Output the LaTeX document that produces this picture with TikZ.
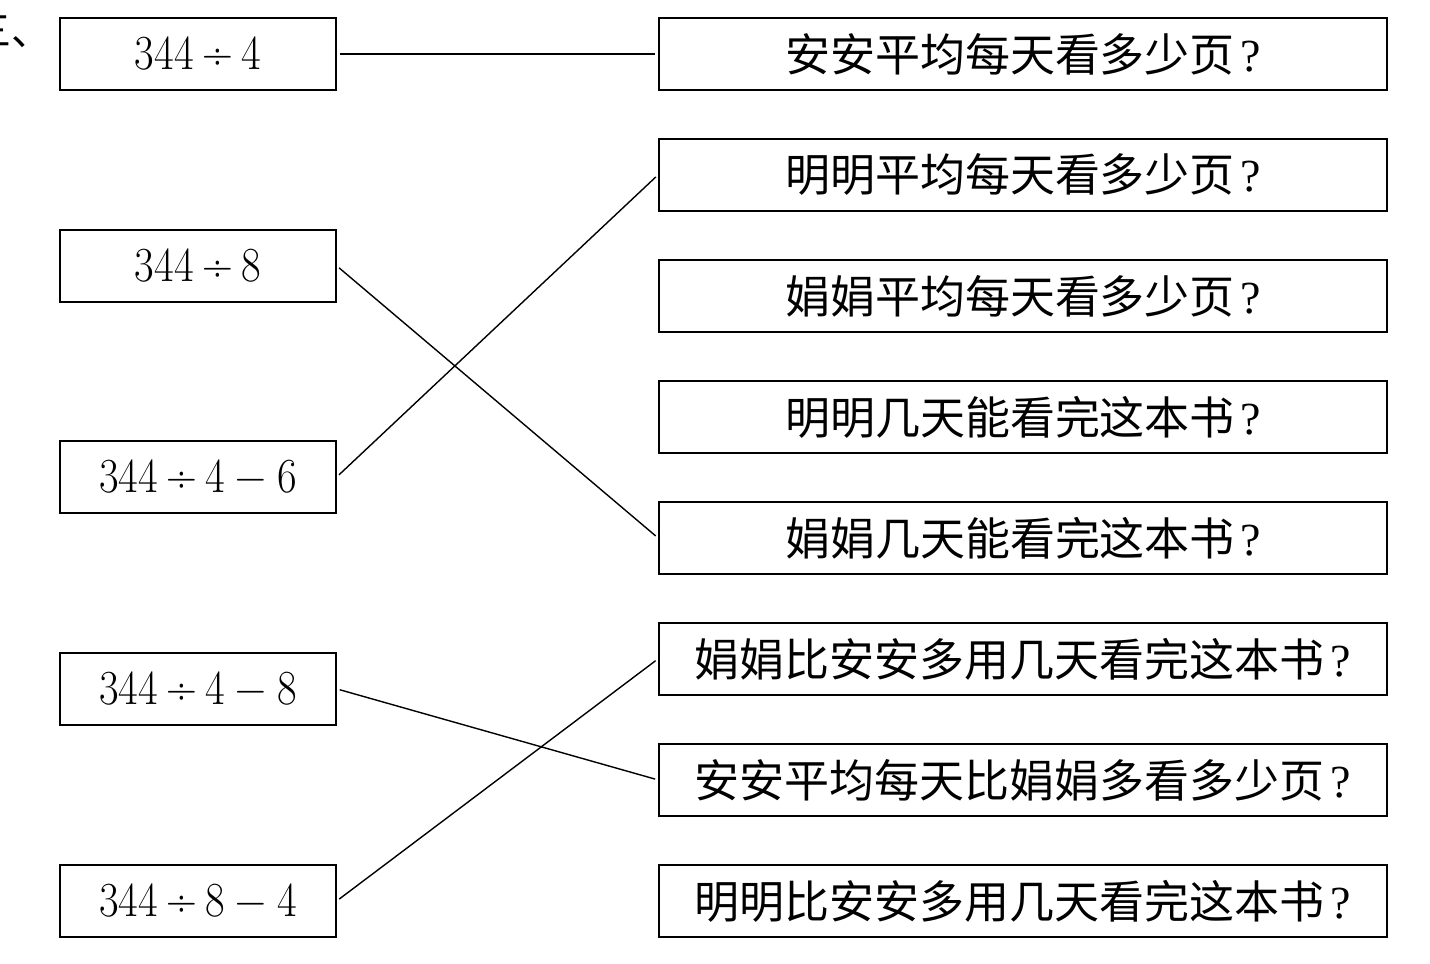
\documentclass[tikz,border=0pt]{standalone}
\usepackage{fontspec}
\newfontfamily\cjk{Noto Sans CJK SC}
\newfontfamily\qfont{Liberation Serif}
\usepackage{graphicx}
\begin{document}
\begin{tikzpicture}[x=1pt,y=-1pt,
  lbox/.style={draw,line width=1.8pt,minimum width=276pt,minimum height=72pt,inner sep=0pt,anchor=north west},
  rbox/.style={draw,line width=1.8pt,minimum width=728pt,minimum height=72pt,inner sep=0pt,anchor=north west,font=\cjk\fontsize{45}{50}\selectfont},
  link/.style={line width=1.4pt,shorten <=3pt,shorten >=3pt}]
\useasboundingbox (0,0) rectangle (1430,964);
\clip (0,0) rectangle (1430,964);
\newcommand{\expr}[1]{\fontsize{49}{52}\selectfont\scalebox{0.87}[1]{#1}}
\newcommand{\dv}{\hspace{0.2em}÷\hspace{0.2em}}
\newcommand{\mn}{\hspace{0.25em}−\hspace{0.25em}}
\newcommand{\q}{\hspace{0.12em}{\qfont\fontsize{46}{50}\selectfont ?}}
\node[anchor=base west,font=\cjk\fontsize{40}{44}\selectfont] (title) at (-32,45) {三、};
\node[lbox] (l1) at (59,17) {\expr{344\dv4}};
\node[lbox] (l2) at (59,229) {\expr{344\dv8}};
\node[lbox] (l3) at (59,440) {\expr{344\dv4\mn6}};
\node[lbox] (l4) at (59,652) {\expr{344\dv4\mn8}};
\node[lbox] (l5) at (59,864) {\expr{344\dv8\mn4}};
\node[rbox] (r1) at (658,17) {安安平均每天看多少页\q};
\node[rbox] (r2) at (658,138) {明明平均每天看多少页\q};
\node[rbox] (r3) at (658,259) {娟娟平均每天看多少页\q};
\node[rbox] (r4) at (658,380) {明明几天能看完这本书\q};
\node[rbox] (r5) at (658,501) {娟娟几天能看完这本书\q};
\node[rbox] (r6) at (658,622) {娟娟比安安多用几天看完这本书\q};
\node[rbox] (r7) at (658,743) {安安平均每天比娟娟多看多少页\q};
\node[rbox] (r8) at (658,864) {明明比安安多用几天看完这本书\q};
\draw[link] (l1.east) -- (r1.west);
\draw[link] (l2.east) -- (r5.west);
\draw[link] (l3.east) -- (r2.west);
\draw[link] (l4.east) -- (r7.west);
\draw[link] (l5.east) -- (r6.west);
\end{tikzpicture}
\end{document}
